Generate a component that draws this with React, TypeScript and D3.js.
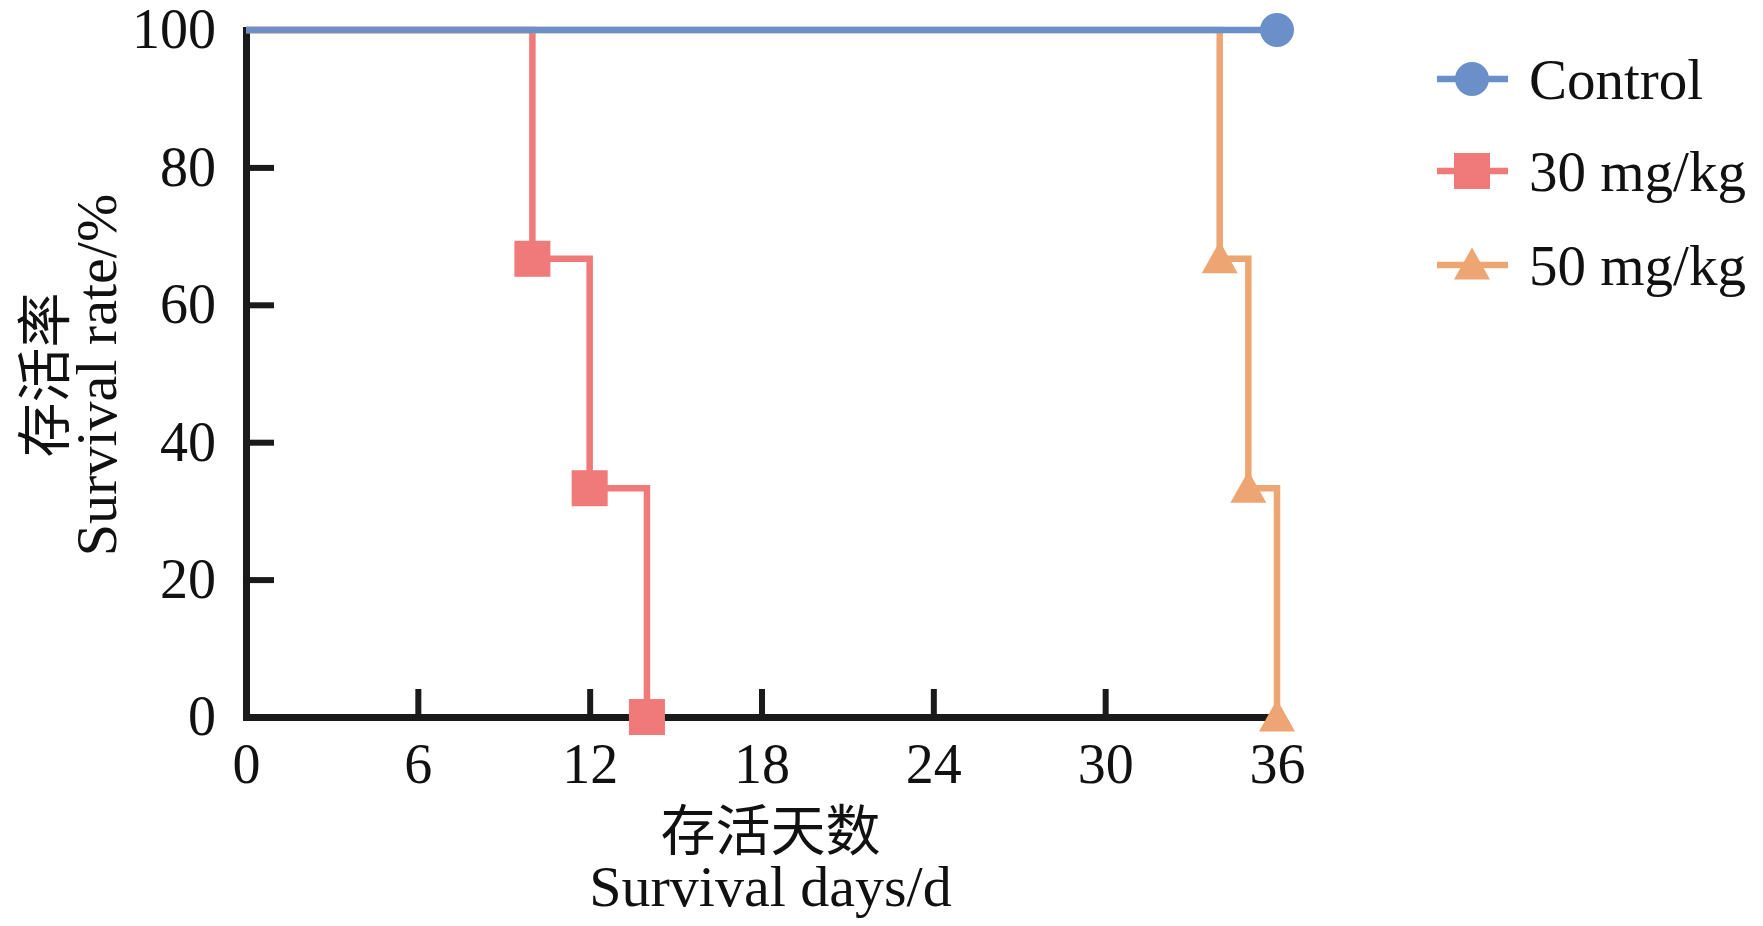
import React, { useRef, useEffect } from "react";
import * as d3 from "d3";

// survival data (days, % surviving)
const seriesNames = ["Control", "30 mg/kg", "50 mg/kg"];
const controlDays = [0, 36];
const controlRate = [100, 100];
const lowDoseDays = [0, 10, 12, 14];
const lowDoseRate = [100, 66.7, 33.3, 0];
const highDoseDays = [0, 34, 35, 36];
const highDoseRate = [100, 66.7, 33.3, 0];

const xTicks = [0, 6, 12, 18, 24, 30, 36];
const yTicks = [0, 20, 40, 60, 80, 100];

const colors = ["#6b8fc8", "#f07a7a", "#eda673"];
const shapes = ["circle", "square", "triangle"];

interface Pt {
  day: number;
  rate: number;
}

const zip = (d: number[], r: number[]): Pt[] => d.map((day, i) => ({ day, rate: r[i] }));

export default function App() {
  const svgRef = useRef<SVGSVGElement | null>(null);

  useEffect(() => {
    const width = 1763;
    const height = 926;
    const margin = { left: 246, right: 486, top: 30, bottom: 209 };
    const serif = "'Liberation Serif', 'Times New Roman', 'Noto Sans CJK SC', serif";
    const cjk = "'Noto Sans CJK SC', sans-serif";

    const svg = d3.select(svgRef.current);
    svg.selectAll("*").remove();
    svg.attr("width", width).attr("height", height).attr("viewBox", `0 0 ${width} ${height}`);

    const x = d3.scaleLinear().domain([0, 36]).range([margin.left, width - margin.right]);
    const y = d3.scaleLinear().domain([0, 100]).range([height - margin.bottom, margin.top]);

    const axisColor = "#1a1a1a";

    // axes with inward ticks
    const yAxis = svg
      .append("g")
      .attr("transform", `translate(${x(0)},0)`)
      .call(d3.axisLeft(y).tickValues(yTicks).tickSizeInner(-28).tickSizeOuter(0).tickPadding(30));
    const xAxis = svg
      .append("g")
      .attr("transform", `translate(0,${y(0)})`)
      .call(d3.axisBottom(x).tickValues(xTicks).tickSizeInner(-28).tickSizeOuter(0).tickPadding(26));

    [yAxis, xAxis].forEach(a => {
      a.select(".domain").attr("stroke", axisColor).attr("stroke-width", 7).attr("stroke-linecap", "square");
      a.selectAll(".tick line").attr("stroke", axisColor).attr("stroke-width", 6);
      a.selectAll(".tick text")
        .attr("fill", "#111")
        .attr("font-family", serif)
        .attr("font-size", 56);
    });
    // drop tick marks that sit on the ends of the axes
    yAxis.selectAll<SVGGElement, number>(".tick").filter(d => d === 0 || d === 100).select("line").remove();
    xAxis.selectAll<SVGGElement, number>(".tick").filter(d => d === 0 || d === 36).select("line").remove();

    const data = [
      zip(controlDays, controlRate),
      zip(lowDoseDays, lowDoseRate),
      zip(highDoseDays, highDoseRate),
    ];

    const line = d3
      .line<Pt>()
      .x(d => x(d.day))
      .y(d => y(d.rate))
      .curve(d3.curveStepAfter);

    const drawMarker = (
      g: d3.Selection<SVGGElement, unknown, null, undefined>,
      shape: string,
      cx: number,
      cy: number,
      color: string
    ) => {
      if (shape === "circle") {
        g.append("circle").attr("cx", cx).attr("cy", cy).attr("r", 17).attr("fill", color);
      } else if (shape === "square") {
        g.append("rect")
          .attr("x", cx - 18)
          .attr("y", cy - 18)
          .attr("width", 36)
          .attr("height", 36)
          .attr("fill", color);
      } else {
        const s = 36;
        const h = 32;
        g.append("path")
          .attr("d", `M${cx},${cy - h * 0.55}L${cx + s / 2},${cy + h * 0.45}L${cx - s / 2},${cy + h * 0.45}Z`)
          .attr("fill", color);
      }
    };

    // draw dose groups first, control on top
    [1, 2, 0].forEach(i => {
      const g = svg.append("g");
      g.append("path")
        .datum(data[i])
        .attr("fill", "none")
        .attr("stroke", colors[i])
        .attr("stroke-width", 6.5)
        .attr("d", line);
      data[i].slice(1).forEach(p => drawMarker(g, shapes[i], x(p.day), y(p.rate), colors[i]));
    });

    // legend
    const legendRows = [79, 171, 265];
    seriesNames.forEach((name, i) => {
      const g = svg.append("g");
      g.append("line")
        .attr("x1", 1437)
        .attr("x2", 1508)
        .attr("y1", legendRows[i])
        .attr("y2", legendRows[i])
        .attr("stroke", colors[i])
        .attr("stroke-width", 6.5);
      drawMarker(g, shapes[i], 1472, legendRows[i], colors[i]);
      g.append("text")
        .attr("x", 1529)
        .attr("y", legendRows[i])
        .attr("dy", "0.35em")
        .attr("font-family", serif)
        .attr("font-size", 57)
        .attr("fill", "#111")
        .text(name);
    });

    // axis titles
    const cx = (x(0) + x(36)) / 2 + 9;
    svg.append("text")
      .attr("x", cx)
      .attr("y", 850)
      .attr("text-anchor", "middle")
      .attr("font-family", cjk)
      .attr("font-size", 55)
      .attr("fill", "#111")
      .text("存活天数");
    svg.append("text")
      .attr("x", cx)
      .attr("y", 906)
      .attr("text-anchor", "middle")
      .attr("font-family", serif)
      .attr("font-size", 58)
      .attr("fill", "#111")
      .text("Survival days/d");

    const yl = svg.append("g").attr("transform", `translate(0,375) rotate(-90)`);
    yl.append("text")
      .attr("x", 0)
      .attr("y", 64)
      .attr("text-anchor", "middle")
      .attr("font-family", cjk)
      .attr("font-size", 55)
      .attr("fill", "#111")
      .text("存活率");
    yl.append("text")
      .attr("x", 0)
      .attr("y", 116)
      .attr("text-anchor", "middle")
      .attr("font-family", serif)
      .attr("font-size", 58)
      .attr("fill", "#111")
      .text("Survival rate/%");
  }, []);

  return (
    <svg
      ref={svgRef}
      style={{ position: "absolute", left: 0, top: 0, display: "block", background: "#fff" }}
    ></svg>
  );
}
